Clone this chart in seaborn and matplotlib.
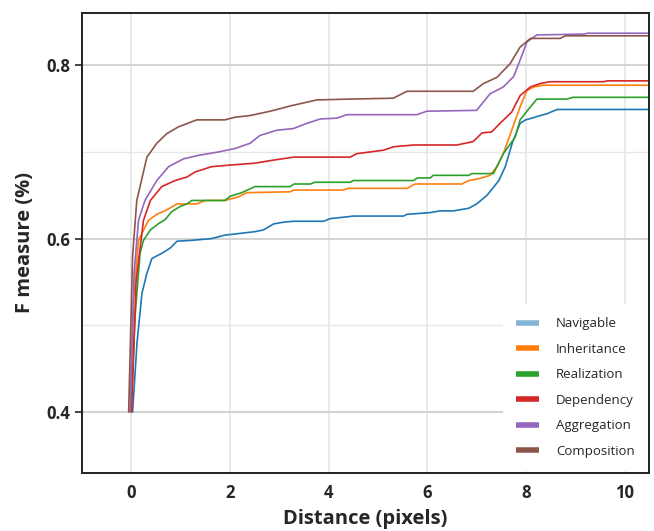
"""F measure vs distance for each relation type."""
import matplotlib
matplotlib.use("Agg")
import matplotlib.pyplot as plt
import pandas as pd
import seaborn as sns
from matplotlib.ticker import MultipleLocator

nav_x = [0.03, 0.12, 0.22, 0.32, 0.42, 0.62, 0.79, 0.93, 1.23, 1.63, 1.90, 2.51, 2.68, 2.89, 3.09, 3.29,
         3.90, 4.03, 4.51, 5.52, 5.59, 6.06, 6.26, 6.53, 6.84, 7.0, 7.21, 7.45, 7.58, 7.72, 7.88, 7.99,
         8.12, 8.29, 8.42, 8.63, 10.5]
nav_y = [0.40, 0.48, 0.537, 0.560, 0.577, 0.583, 0.589, 0.597, 0.598, 0.600, 0.604, 0.608, 0.610, 0.617,
         0.619, 0.620, 0.620, 0.623, 0.626, 0.626, 0.628, 0.630, 0.632, 0.632, 0.635, 0.640, 0.650, 0.667,
         0.683, 0.710, 0.733, 0.737, 0.739, 0.742, 0.744, 0.749, 0.749]

inh_x = [-0.02, 0.05, 0.15, 0.35, 0.52, 0.72, 0.93, 1.33, 1.50, 1.90, 2.17, 2.34, 3.22, 3.30, 4.30, 4.40,
         5.59, 5.75, 6.70, 6.84, 7.04, 7.27, 7.41, 7.54, 7.71, 7.88, 8.02, 8.16, 8.35, 10.5]
inh_y = [0.40, 0.53, 0.598, 0.621, 0.628, 0.633, 0.640, 0.640, 0.644, 0.644, 0.648, 0.653, 0.654, 0.656,
         0.656, 0.658, 0.658, 0.663, 0.663, 0.667, 0.669, 0.673, 0.683, 0.698, 0.725, 0.752, 0.771, 0.775,
         0.777, 0.777]

rea_x = [0.0, 0.08, 0.18, 0.25, 0.39, 0.55, 0.69, 0.82, 0.99, 1.13, 1.23, 1.90, 2.01, 2.24, 2.51, 3.22,
         3.30, 3.63, 3.72, 4.44, 4.50, 5.72, 5.80, 6.06, 6.12, 6.84, 6.90, 7.34, 7.41, 7.54, 7.78, 7.88,
         8.06, 8.22, 8.83, 8.95, 10.5]
rea_y = [0.40, 0.51, 0.583, 0.598, 0.610, 0.617, 0.622, 0.631, 0.637, 0.640, 0.644, 0.644, 0.649, 0.653,
         0.660, 0.660, 0.663, 0.663, 0.665, 0.665, 0.667, 0.667, 0.670, 0.670, 0.673, 0.673, 0.675, 0.675,
         0.683, 0.698, 0.717, 0.737, 0.750, 0.761, 0.761, 0.763, 0.763]

dep_x = [0.01, 0.10, 0.25, 0.39, 0.62, 0.89, 1.13, 1.30, 1.63, 2.04, 2.51, 2.82, 3.29, 4.44, 4.57, 5.11,
         5.32, 5.72, 6.60, 6.93, 7.11, 7.30, 7.51, 7.71, 7.88, 8.09, 8.29, 8.49, 9.57, 9.65, 10.5]
dep_y = [0.40, 0.55, 0.621, 0.644, 0.660, 0.667, 0.671, 0.677, 0.683, 0.685, 0.687, 0.690, 0.694, 0.694,
         0.698, 0.702, 0.706, 0.708, 0.708, 0.712, 0.722, 0.723, 0.735, 0.746, 0.765, 0.775, 0.779, 0.781,
         0.781, 0.782, 0.782]

agg_x = [-0.02, 0.06, 0.15, 0.28, 0.52, 0.76, 1.06, 1.36, 1.77, 2.11, 2.41, 2.61, 2.95, 3.29, 3.56, 3.83,
         4.17, 4.37, 5.79, 5.99, 7.0, 7.27, 7.54, 7.75, 7.88, 8.02, 8.22, 9.17, 9.25, 10.5]
agg_y = [0.40, 0.56, 0.621, 0.644, 0.667, 0.683, 0.692, 0.696, 0.700, 0.704, 0.710, 0.719, 0.725, 0.727,
         0.733, 0.738, 0.739, 0.743, 0.743, 0.747, 0.748, 0.767, 0.775, 0.787, 0.806, 0.827, 0.835, 0.836,
         0.837, 0.837]

com_x = [-0.05, 0.03, 0.115, 0.32, 0.52, 0.72, 0.96, 1.33, 1.90, 2.10, 2.41, 2.82, 3.22, 3.76, 4.44, 5.31,
         5.59, 6.93, 7.14, 7.41, 7.68, 7.88, 8.09, 8.69, 8.8, 10.5]
com_y = [0.40, 0.58, 0.644, 0.694, 0.710, 0.721, 0.729, 0.737, 0.737, 0.740, 0.742, 0.747, 0.753, 0.760,
         0.761, 0.762, 0.770, 0.770, 0.779, 0.786, 0.802, 0.821, 0.831, 0.831, 0.834, 0.834]

labels = ["Navigable", "Inheritance", "Realization", "Dependency", "Aggregation", "Composition"]
series = [(nav_x, nav_y), (inh_x, inh_y), (rea_x, rea_y), (dep_x, dep_y), (agg_x, agg_y), (com_x, com_y)]

frames = [pd.DataFrame({"distance": xs, "f": ys, "relation": name})
          for name, (xs, ys) in zip(labels, series)]
df = pd.concat(frames, ignore_index=True)

sns.set_style("white")
plt.rcParams["font.family"] = ["Open Sans", "DejaVu Sans"]

fig, ax = plt.subplots(figsize=(6.54, 5.31), dpi=100)
sns.lineplot(data=df, x="distance", y="f", hue="relation", hue_order=labels,
             palette="tab10", linewidth=1.2, estimator=None, sort=False, ax=ax)

ax.set_xlim(-1, 10.5)
ax.set_ylim(0.33, 0.86)
ax.xaxis.set_major_locator(MultipleLocator(2))
ax.yaxis.set_major_locator(MultipleLocator(0.2))
ax.yaxis.set_minor_locator(MultipleLocator(0.1))
ax.grid(axis="x", which="major", color="#e6e6e6", linewidth=1.2)
ax.grid(axis="y", which="major", color="#d4d4d4", linewidth=1.5)
ax.grid(axis="y", which="minor", color="#e6e6e6", linewidth=1.0)
ax.set_axisbelow(True)

for s in ax.spines.values():
    s.set_color("#222222")
    s.set_linewidth(1.4)

ax.tick_params(axis="y", which="major", length=5, width=1.2, left=True, labelsize=12)
ax.tick_params(axis="y", which="minor", length=0)
ax.tick_params(axis="x", length=0, pad=8, labelsize=12)
for lbl in ax.get_xticklabels() + ax.get_yticklabels():
    lbl.set_fontweight("bold")

ax.set_xlabel("Distance (pixels)", fontsize=14.5, fontweight="bold", labelpad=5)
ax.set_ylabel("F measure (%)", fontsize=14.5, fontweight="bold", labelpad=8)

leg = ax.legend(loc="lower right", frameon=True, fontsize=9.5, labelspacing=0.95,
                handlelength=1.7, handletextpad=1.3, borderpad=1.0, borderaxespad=0.12,
                fancybox=False)
leg.get_frame().set_linewidth(0)
leg.get_frame().set_alpha(1.0)
for i, h in enumerate(leg.get_lines()):
    h.set_linewidth(4)
    h.set_solid_capstyle("butt")
    if i == 0:
        h.set_alpha(0.55)

fig.subplots_adjust(left=0.125, right=0.993, top=0.975, bottom=0.11)
fig.savefig("out.png", dpi=100)
plt.close()
